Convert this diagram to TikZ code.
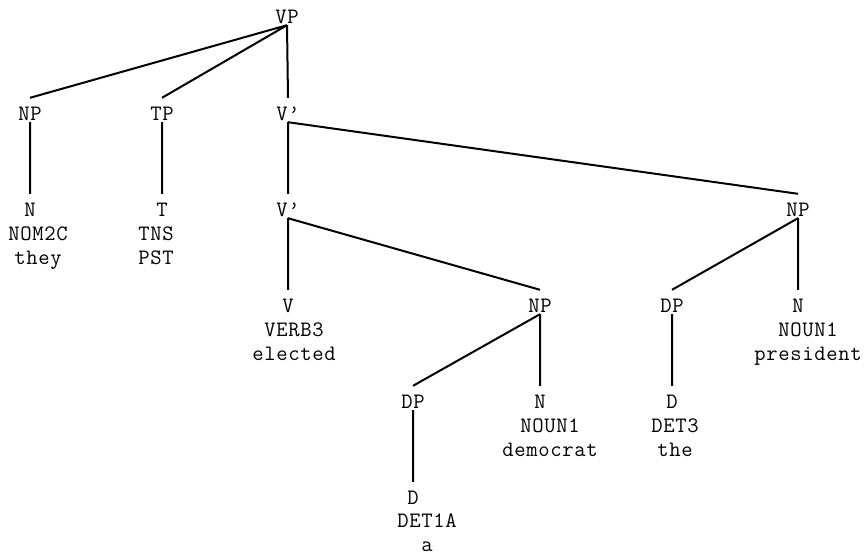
\documentclass[tikz,border=0pt]{standalone}
\usepackage{fontspec}
\newfontfamily\treefont{Latin Modern Mono}[LetterSpace=3]

\begin{document}
\begin{tikzpicture}[
		x=1pt, y=-1pt, % pixel grid, y downwards
		cat/.style={anchor=base, inner sep=0pt, font=\treefont\fontsize{22}{24}\selectfont, text height=22pt, text depth=2pt},
		lex/.style={anchor=base, inner sep=0pt, align=center, font=\treefont\fontsize{22}{24}\selectfont},
		edge/.style={black, line width=2pt}]
	\useasboundingbox (0,0) rectangle (866,555);
	\path 	(287,23) 	node (vp)  [cat] {VP}
	        (30,120) 	node (np1) [cat] {NP}
	        (162,120) 	node (tp)  [cat] {TP}
	        (288,120) 	node (v1)  [cat] {V’}
	        (30,216) 	node (n1)  [cat] {N}
	        (162,216) 	node (t1)  [cat] {T}
	        (288,216) 	node (v2)  [cat] {V’}
	        (798,216) 	node (np2) [cat] {NP}
	        (288,312) 	node (v3)  [cat] {V}
	        (540,312) 	node (np3) [cat] {NP}
	        (672,312) 	node (dp2) [cat] {DP}
	        (798,312) 	node (n3)  [cat] {N}
	        (413,408) 	node (dp1) [cat] {DP}
	        (540,408) 	node (n2)  [cat] {N}
	        (672,408) 	node (d2)  [cat] {D}
	        (413,504) 	node (d1)  [cat] {D};
	% words under the leaves (base = last line)
	\path 	(38,264) 	node (w1) [lex] {NOM2C\\they}
	        (156,264) 	node (w2) [lex] {TNS\\PST}
	        (294,360) 	node (w3) [lex] {VERB3\\elected}
	        (808,360) 	node (w4) [lex] {NOUN1\\president}
	        (550,456) 	node (w5) [lex] {NOUN1\\democrat}
	        (675,456) 	node (w6) [lex] {DET3\\the}
	        (427,551) 	node (w7) [lex] {DET1A\\a};
	\draw [edge] (vp.south) -- (np1.north) (vp.south) -- (tp.north) (vp.south) -- (v1.north)
	      (np1.south) -- (n1.north) (tp.south) -- (t1.north)
	      (v1.south) -- (v2.north) (v1.south) -- (np2.north)
	      (v2.south) -- (v3.north) (v2.south) -- (np3.north)
	      (np3.south) -- (dp1.north) (np3.south) -- (n2.north) (dp1.south) -- (d1.north)
	      (np2.south) -- (dp2.north) (np2.south) -- (n3.north) (dp2.south) -- (d2.north);
\end{tikzpicture}
\end{document}
